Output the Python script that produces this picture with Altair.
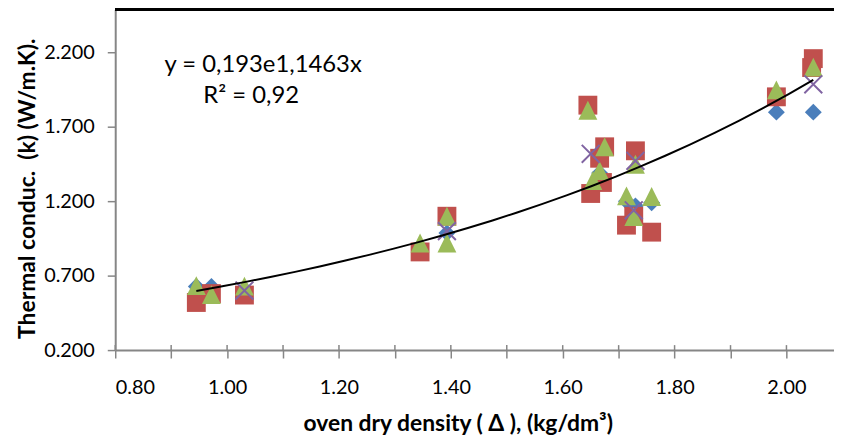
import altair as alt
import pandas as pd

# ---- data ----
blue_x = [0.945, 0.972, 1.031, 1.393, 1.666, 1.714, 1.730, 1.759, 1.982, 2.048]
blue_y = [0.627, 0.627, 0.610, 0.987, 1.390, 1.200, 1.170, 1.190, 1.800, 1.800]

red_x = [0.945, 0.972, 1.031, 1.345, 1.393, 1.645, 1.650, 1.666, 1.671, 1.675,
         1.714, 1.727, 1.730, 1.759, 1.982, 2.045, 2.048]
red_y = [0.520, 0.580, 0.570, 0.860, 1.100, 1.847, 1.253, 1.490, 1.327, 1.567,
         1.040, 1.100, 1.540, 0.993, 1.903, 2.100, 2.160]

green_x = [0.945, 0.972, 1.031, 1.345, 1.393, 1.393, 1.645, 1.654, 1.666, 1.675,
           1.714, 1.727, 1.730, 1.759, 1.982, 2.048]
green_y = [0.633, 0.573, 0.630, 0.920, 1.100, 0.920, 1.813, 1.340, 1.407, 1.567,
           1.237, 1.097, 1.450, 1.233, 1.950, 2.103]

purple_x = [1.031, 1.393, 1.650, 1.727, 1.730, 2.048]
purple_y = [0.600, 1.000, 1.520, 1.140, 1.473, 1.987]

x_ticks = [0.8, 0.9, 1.0, 1.1, 1.2, 1.3, 1.4, 1.5, 1.6, 1.7, 1.8, 1.9, 2.0]
y_ticks = [0.2, 0.7, 1.2, 1.7, 2.2]

equation = "y = 0,193e1,1463x"
r2_text = "R² = 0,92"
x_title = "oven dry density ( Δ ), (kg/dm³)"
y_title = "Thermal conduc.\u00a0 (k) (W/m.K)."

# ---- build tables ----
frames = []
for name, xs, ys in [("blue", blue_x, blue_y), ("red", red_x, red_y),
                     ("green", green_x, green_y), ("purple", purple_x, purple_y)]:
    frames.append(pd.DataFrame({"x": xs, "y": ys, "s": name}))
df = pd.concat(frames, ignore_index=True)
tick_df = pd.DataFrame({"x": x_ticks})

W, H = 724, 343
FONT = "Lato"
GRAY = "#868686"

xscale = alt.Scale(domain=[0.8, 2.085], nice=False, zero=False)
yscale = alt.Scale(domain=[0.2, 2.49], nice=False, zero=False)

xaxis = alt.Axis(
    values=x_ticks, grid=False,
    labelExpr="(round(datum.value*10) % 2 == 0) ? format(datum.value, '.2f') : ''",
    tickSize=8, tickColor=GRAY, tickWidth=1.5, domainColor=GRAY, domainWidth=2,
    labelFont=FONT, labelFontSize=20, labelColor="#000000", labelPadding=20,
    title=x_title, titleFont=FONT, titleFontSize=23,
    titleFontWeight="bold", titleColor="#000000", titleX=345, titleY=74,
    titleAlign="center", titleBaseline="middle",
)
yaxis = alt.Axis(
    values=y_ticks, format=".3f", grid=False,
    tickSize=8, tickColor=GRAY, tickWidth=1.5, domainColor=GRAY, domainWidth=2,
    labelFont=FONT, labelFontSize=20, labelColor="#000000", labelPadding=13,
    title=y_title, titleFont=FONT, titleFontSize=23,
    titleFontWeight="bold", titleColor="#000000", titleX=-88, titleY=180,
    titleAngle=-90, titleAlign="center", titleBaseline="middle",
)

base = alt.Chart(df)

def series(name, **mark):
    return base.transform_filter(alt.datum.s == name).mark_point(opacity=1, **mark).encode(
        x=alt.X("x:Q", scale=xscale, axis=xaxis),
        y=alt.Y("y:Q", scale=yscale, axis=yaxis),
    )

blue = series("blue", shape="diamond", filled=True, color="#4A7EBB", size=290)
red = series("red", shape="square", filled=True, color="#C0504D", size=361)
green = series("green", shape="M0,-1L1,1L-1,1Z", filled=True, color="#9BBB59", size=361)
purple = series("purple", shape="M-1,-1L1,1M1,-1L-1,1", filled=False,
                stroke="#8064A2", strokeWidth=2, size=324)

trend = base.transform_regression("x", "y", method="exp").mark_line(
    color="#000000", strokeWidth=2
).encode(x=alt.X("x:Q", scale=xscale, axis=xaxis), y=alt.Y("y:Q", scale=yscale, axis=yaxis))

inner_ticks = alt.Chart(tick_df).mark_rule(color=GRAY, strokeWidth=1.5).encode(
    x=alt.X("x:Q", scale=xscale, axis=xaxis), y=alt.value(H - 5), y2=alt.value(H)
)

top_border = alt.Chart(tick_df).mark_rule(color="#000000", strokeWidth=2).encode(
    x=alt.value(0), x2=alt.value(W), y=alt.value(0)
)

label_df = pd.DataFrame({"t": [equation, r2_text], "px": [149, 137], "py": [56, 87]})
labels = alt.Chart(label_df).mark_text(font=FONT, fontSize=24, color="#000000",
                                       align="center", baseline="middle").encode(
    text="t:N", x=alt.X("px:Q", scale=None), y=alt.Y("py:Q", scale=None)
)

chart = alt.layer(inner_ticks, top_border, blue, red, green, purple, trend, labels).properties(
    width=W, height=H,
    autosize=alt.AutoSizeParams(type="none"),
    padding={"left": 108, "top": 0, "right": 0, "bottom": 86},
).configure_view(stroke=None)

chart.save("out.html", embed_options={"renderer": "svg", "actions": False})
